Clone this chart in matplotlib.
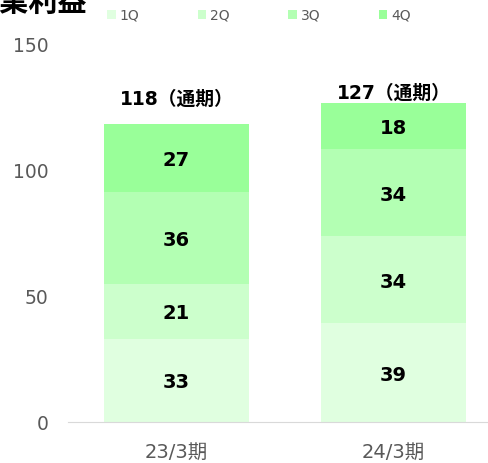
import matplotlib.pyplot as plt
import numpy as np

plt.rcParams['font.family'] = ['DejaVu Sans', 'Noto Sans CJK JP']

# data
categories = ['23/3期', '24/3期']
quarters = ['1Q', '2Q', '3Q', '4Q']
q1 = [33.0, 39.3]
q2 = [21.8, 34.5]
q3 = [36.5, 34.5]
q4 = [27.0, 18.3]
seg_labels = [['33', '21', '36', '27'], ['39', '34', '34', '18']]
total_labels = ['118（通期）', '127（通期）']
colors = ['#e0ffe0', '#ccffcc', '#b3ffb3', '#99ff99']

fig = plt.figure(figsize=(4.88, 4.63), dpi=100)
ax = fig.add_axes([68 / 488, 41 / 463, 434 / 488, 378 / 463])

x = np.arange(len(categories))
series = [q1, q2, q3, q4]
bottom = np.zeros(len(categories))
for i, vals in enumerate(series):
    ax.bar(x, vals, width=0.664, bottom=bottom, color=colors[i], label=quarters[i])
    for j, v in enumerate(vals):
        ax.text(x[j], bottom[j] + v / 2 - 1.0, seg_labels[j][i], ha='center', va='center',
                fontsize=14, fontweight='bold', color='black')
    bottom += np.array(vals)

# total labels above bars
offsets = [9.8, 4.0]
for j in range(len(categories)):
    ax.text(x[j], bottom[j] + offsets[j], total_labels[j], ha='center', va='center',
            fontsize=13.5, fontweight='bold', color='black')

ax.set_xlim(-0.5, 1.5)
ax.set_ylim(0, 150)
ax.set_yticks([0, 50, 100, 150])
ax.set_xticks(x)
ax.set_xticklabels(categories)
ax.tick_params(axis='y', length=0, pad=14, labelsize=13.5, labelcolor='#595959')
ax.tick_params(axis='x', length=0, pad=15, labelsize=14, labelcolor='#595959')
for s in ['top', 'right', 'left']:
    ax.spines[s].set_visible(False)
ax.spines['bottom'].set_color('#d9d9d9')

ax.legend(loc='upper left', bbox_to_anchor=(99 / 488, 1.0), bbox_transform=fig.transFigure,
          ncol=4, frameon=False, fontsize=10, labelcolor='#595959',
          handlelength=0.6, handleheight=0.6, columnspacing=4.2, handletextpad=0.3,
          borderaxespad=0.2)

fig.text(-29 / 488, 1 - 11 / 463, '営業利益', ha='left', va='baseline', fontsize=21,
         fontweight='bold', color='black')

fig.savefig('out.png', dpi=100)
